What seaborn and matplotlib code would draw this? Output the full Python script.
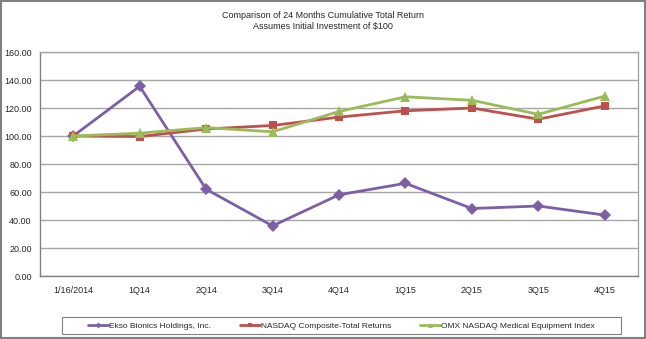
import matplotlib
matplotlib.use("Agg")
import matplotlib.pyplot as plt
import seaborn as sns
import pandas as pd
from matplotlib.patches import Rectangle

categories = ["1/16/2014", "1Q14", "2Q14", "3Q14", "4Q14", "1Q15", "2Q15", "3Q15", "4Q15"]
ekso = [100.0, 135.5, 62.0, 35.8, 58.0, 66.2, 48.2, 50.0, 43.5]
nasdaq = [100.0, 99.6, 105.0, 107.5, 113.5, 118.0, 120.0, 112.0, 121.5]
omx = [100.0, 102.0, 106.0, 103.0, 117.5, 128.0, 125.5, 115.5, 128.5]
series_names = ["Ekso Bionics Holdings, Inc.", "NASDAQ Composite-Total Returns", "OMX NASDAQ Medical Equipment Index"]
yticks = [0, 20, 40, 60, 80, 100, 120, 140, 160]

rows = []
for name, vals in zip(series_names, [ekso, nasdaq, omx]):
    for i, v in enumerate(vals):
        rows.append({"x": i, "value": v, "series": name})
df = pd.DataFrame(rows)

sns.set_style("white")
plt.rcParams["font.family"] = ["Liberation Sans", "DejaVu Sans"]

W, H = 646, 339
fig = plt.figure(figsize=(W / 100, H / 100), dpi=100)
ax = fig.add_axes([40 / W, 1 - 276 / H, (638 - 40) / W, (276 - 52) / H])

colors = ["#7D5FA6", "#C0504D", "#9BBB59"]
marker_list = ["D", "s", "^"]
msizes = [6, 6, 7]

for k, name in enumerate(series_names):
    sub = df[df["series"] == name]
    sns.lineplot(data=sub, x="x", y="value", color=colors[k], marker=marker_list[k],
                 linewidth=2, markersize=msizes[k], markeredgewidth=0, ax=ax,
                 label=name, sort=False, zorder=3 + k)

ax.set_xlim(-0.5, 8.5)
ax.set_ylim(0, 160)
ax.set_yticks(yticks)
ax.set_yticklabels([f"{t:.2f}" for t in yticks], fontsize=6.5)
ax.set_xticks(range(len(categories)))
ax.set_xticklabels(categories, fontsize=6.5)
ax.set_xlabel("")
ax.set_ylabel("")
ax.grid(axis="y", color="#A6A6A6", linewidth=1)
ax.set_axisbelow(True)
for s in ["top", "right"]:
    ax.spines[s].set_color("#A6A6A6")
    ax.spines[s].set_linewidth(1)
for s in ["left", "bottom"]:
    ax.spines[s].set_color("#808080")
    ax.spines[s].set_linewidth(1)
ax.tick_params(axis="both", length=3, width=0.8, color="#808080", direction="out", pad=3)
ax.tick_params(axis="x", pad=4)

fig.text(0.5, 1 - 15 / H, "Comparison of 24 Months Cumulative Total Return", ha="center", va="center", fontsize=6.5)
fig.text(0.5, 1 - 27 / H, "Assumes Initial Investment of $100", ha="center", va="center", fontsize=6.5)

handles, labels = ax.get_legend_handles_labels()
if ax.get_legend():
    ax.get_legend().remove()
leg = fig.legend(handles, labels, loc="center", bbox_to_anchor=((62 + 621) / 2 / W, 1 - 326 / H), ncol=3,
                 fontsize=6, frameon=False, handlelength=2.4, handletextpad=0.1,
                 columnspacing=3.5, markerscale=0.5)
fig.patches.append(Rectangle((62 / W, 1 - 334 / H), (621 - 62) / W, 17 / H, transform=fig.transFigure,
                             fill=False, edgecolor="#808080", linewidth=0.8))

fig.patches.append(Rectangle((0.002, 0.003), 0.996, 0.994, transform=fig.transFigure,
                             fill=False, edgecolor="#808080", linewidth=1.5))

fig.savefig("out.png", dpi=100)
